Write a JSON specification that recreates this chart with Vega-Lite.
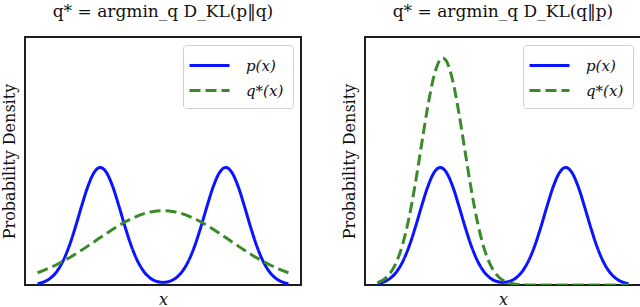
{
  "$schema": "https://vega.github.io/schema/vega-lite/v6.json",
  "padding": {"left": 0, "top": 2, "right": 1, "bottom": 2},
  "spacing": 38,
  "background": "white",
  "config": {
    "view": {"stroke": "#1e1e1e", "strokeWidth": 2},
    "axis": {"domain": false, "ticks": false, "labels": false, "grid": false, "titleFont": "DejaVu Serif", "titleFontWeight": "normal", "titleColor": "#111", "titleFontSize": 16},
    "title": {"font": "DejaVu Serif", "fontSize": 17, "fontWeight": "normal", "color": "#111", "frame": "group", "anchor": "middle", "offset": 16},
    "legend": {"orient": "top-right", "offset": 8, "title": null, "fillColor": "white", "strokeColor": "#d0d0d0", "cornerRadius": 3, "padding": 9, "labelFont": "DejaVu Serif", "labelFontStyle": "italic", "labelFontSize": 15, "labelColor": "#111", "symbolType": "M-1.4,0H2.6", "symbolSize": 400, "symbolStrokeWidth": 3, "symbolFillColor": "transparent", "rowPadding": 5, "labelOffset": 31}
  },
  "datasets": {
    "left": [
      {"series": "p(x)", "x": -4.0, "y": 0.00332}, {"series": "p(x)", "x": -3.8, "y": 0.00781}, {"series": "p(x)", "x": -3.6, "y": 0.01679}, {"series": "p(x)", "x": -3.4, "y": 0.033}, {"series": "p(x)", "x": -3.2, "y": 0.05921}, {"series": "p(x)", "x": -3.0, "y": 0.09715}, {"series": "p(x)", "x": -2.8, "y": 0.14566}, {"series": "p(x)", "x": -2.6, "y": 0.19957}, {"series": "p(x)", "x": -2.4, "y": 0.24993}, {"series": "p(x)", "x": -2.2, "y": 0.28605}, {"series": "p(x)", "x": -2.0, "y": 0.29921}, {"series": "p(x)", "x": -1.8, "y": 0.28605}, {"series": "p(x)", "x": -1.6, "y": 0.24993}, {"series": "p(x)", "x": -1.4, "y": 0.19957}, {"series": "p(x)", "x": -1.2, "y": 0.14566}, {"series": "p(x)", "x": -1.0, "y": 0.09716}, {"series": "p(x)", "x": -0.8, "y": 0.05927}, {"series": "p(x)", "x": -0.6, "y": 0.03315}, {"series": "p(x)", "x": -0.4, "y": 0.01724}, {"series": "p(x)", "x": -0.2, "y": 0.0091}, {"series": "p(x)", "x": 0.0, "y": 0.00664}, {"series": "p(x)", "x": 0.2, "y": 0.0091}, {"series": "p(x)", "x": 0.4, "y": 0.01724}, {"series": "p(x)", "x": 0.6, "y": 0.03315}, {"series": "p(x)", "x": 0.8, "y": 0.05927}, {"series": "p(x)", "x": 1.0, "y": 0.09716}, {"series": "p(x)", "x": 1.2, "y": 0.14566}, {"series": "p(x)", "x": 1.4, "y": 0.19957}, {"series": "p(x)", "x": 1.6, "y": 0.24993}, {"series": "p(x)", "x": 1.8, "y": 0.28605}, {"series": "p(x)", "x": 2.0, "y": 0.29921}, {"series": "p(x)", "x": 2.2, "y": 0.28605}, {"series": "p(x)", "x": 2.4, "y": 0.24993}, {"series": "p(x)", "x": 2.6, "y": 0.19957}, {"series": "p(x)", "x": 2.8, "y": 0.14566}, {"series": "p(x)", "x": 3.0, "y": 0.09715}, {"series": "p(x)", "x": 3.2, "y": 0.05921}, {"series": "p(x)", "x": 3.4, "y": 0.033}, {"series": "p(x)", "x": 3.6, "y": 0.01679}, {"series": "p(x)", "x": 3.8, "y": 0.00781}, {"series": "p(x)", "x": 4.0, "y": 0.00332},
      {"series": "q*(x)", "x": -4.0, "y": 0.03128}, {"series": "q*(x)", "x": -3.8, "y": 0.03728}, {"series": "q*(x)", "x": -3.6, "y": 0.04403}, {"series": "q*(x)", "x": -3.4, "y": 0.05155}, {"series": "q*(x)", "x": -3.2, "y": 0.05981}, {"series": "q*(x)", "x": -3.0, "y": 0.06876}, {"series": "q*(x)", "x": -2.8, "y": 0.07834}, {"series": "q*(x)", "x": -2.6, "y": 0.08846}, {"series": "q*(x)", "x": -2.4, "y": 0.09899}, {"series": "q*(x)", "x": -2.2, "y": 0.10979}, {"series": "q*(x)", "x": -2.0, "y": 0.12067}, {"series": "q*(x)", "x": -1.8, "y": 0.13144}, {"series": "q*(x)", "x": -1.6, "y": 0.14189}, {"series": "q*(x)", "x": -1.4, "y": 0.1518}, {"series": "q*(x)", "x": -1.2, "y": 0.16095}, {"series": "q*(x)", "x": -1.0, "y": 0.16911}, {"series": "q*(x)", "x": -0.8, "y": 0.17611}, {"series": "q*(x)", "x": -0.6, "y": 0.18174}, {"series": "q*(x)", "x": -0.4, "y": 0.18587}, {"series": "q*(x)", "x": -0.2, "y": 0.1884}, {"series": "q*(x)", "x": 0.0, "y": 0.18925}, {"series": "q*(x)", "x": 0.2, "y": 0.1884}, {"series": "q*(x)", "x": 0.4, "y": 0.18587}, {"series": "q*(x)", "x": 0.6, "y": 0.18174}, {"series": "q*(x)", "x": 0.8, "y": 0.17611}, {"series": "q*(x)", "x": 1.0, "y": 0.16911}, {"series": "q*(x)", "x": 1.2, "y": 0.16095}, {"series": "q*(x)", "x": 1.4, "y": 0.1518}, {"series": "q*(x)", "x": 1.6, "y": 0.14189}, {"series": "q*(x)", "x": 1.8, "y": 0.13144}, {"series": "q*(x)", "x": 2.0, "y": 0.12067}, {"series": "q*(x)", "x": 2.2, "y": 0.10979}, {"series": "q*(x)", "x": 2.4, "y": 0.09899}, {"series": "q*(x)", "x": 2.6, "y": 0.08846}, {"series": "q*(x)", "x": 2.8, "y": 0.07834}, {"series": "q*(x)", "x": 3.0, "y": 0.06876}, {"series": "q*(x)", "x": 3.2, "y": 0.05981}, {"series": "q*(x)", "x": 3.4, "y": 0.05155}, {"series": "q*(x)", "x": 3.6, "y": 0.04403}, {"series": "q*(x)", "x": 3.8, "y": 0.03728}, {"series": "q*(x)", "x": 4.0, "y": 0.03128}
    ],
    "right": [
      {"series": "p(x)", "x": -4.0, "y": 0.00332}, {"series": "p(x)", "x": -3.8, "y": 0.00781}, {"series": "p(x)", "x": -3.6, "y": 0.01679}, {"series": "p(x)", "x": -3.4, "y": 0.033}, {"series": "p(x)", "x": -3.2, "y": 0.05921}, {"series": "p(x)", "x": -3.0, "y": 0.09715}, {"series": "p(x)", "x": -2.8, "y": 0.14566}, {"series": "p(x)", "x": -2.6, "y": 0.19957}, {"series": "p(x)", "x": -2.4, "y": 0.24993}, {"series": "p(x)", "x": -2.2, "y": 0.28605}, {"series": "p(x)", "x": -2.0, "y": 0.29921}, {"series": "p(x)", "x": -1.8, "y": 0.28605}, {"series": "p(x)", "x": -1.6, "y": 0.24993}, {"series": "p(x)", "x": -1.4, "y": 0.19957}, {"series": "p(x)", "x": -1.2, "y": 0.14566}, {"series": "p(x)", "x": -1.0, "y": 0.09716}, {"series": "p(x)", "x": -0.8, "y": 0.05927}, {"series": "p(x)", "x": -0.6, "y": 0.03315}, {"series": "p(x)", "x": -0.4, "y": 0.01724}, {"series": "p(x)", "x": -0.2, "y": 0.0091}, {"series": "p(x)", "x": 0.0, "y": 0.00664}, {"series": "p(x)", "x": 0.2, "y": 0.0091}, {"series": "p(x)", "x": 0.4, "y": 0.01724}, {"series": "p(x)", "x": 0.6, "y": 0.03315}, {"series": "p(x)", "x": 0.8, "y": 0.05927}, {"series": "p(x)", "x": 1.0, "y": 0.09716}, {"series": "p(x)", "x": 1.2, "y": 0.14566}, {"series": "p(x)", "x": 1.4, "y": 0.19957}, {"series": "p(x)", "x": 1.6, "y": 0.24993}, {"series": "p(x)", "x": 1.8, "y": 0.28605}, {"series": "p(x)", "x": 2.0, "y": 0.29921}, {"series": "p(x)", "x": 2.2, "y": 0.28605}, {"series": "p(x)", "x": 2.4, "y": 0.24993}, {"series": "p(x)", "x": 2.6, "y": 0.19957}, {"series": "p(x)", "x": 2.8, "y": 0.14566}, {"series": "p(x)", "x": 3.0, "y": 0.09715}, {"series": "p(x)", "x": 3.2, "y": 0.05921}, {"series": "p(x)", "x": 3.4, "y": 0.033}, {"series": "p(x)", "x": 3.6, "y": 0.01679}, {"series": "p(x)", "x": 3.8, "y": 0.00781}, {"series": "p(x)", "x": 4.0, "y": 0.00332},
      {"series": "q*(x)", "x": -4.0, "y": 0.00615}, {"series": "q*(x)", "x": -3.8, "y": 0.01413}, {"series": "q*(x)", "x": -3.6, "y": 0.02983}, {"series": "q*(x)", "x": -3.4, "y": 0.05794}, {"series": "q*(x)", "x": -3.2, "y": 0.10348}, {"series": "q*(x)", "x": -3.0, "y": 0.16984}, {"series": "q*(x)", "x": -2.8, "y": 0.25636}, {"series": "q*(x)", "x": -2.6, "y": 0.35577}, {"series": "q*(x)", "x": -2.4, "y": 0.4539}, {"series": "q*(x)", "x": -2.2, "y": 0.53247}, {"series": "q*(x)", "x": -2.0, "y": 0.5743}, {"series": "q*(x)", "x": -1.92, "y": 0.57817}, {"series": "q*(x)", "x": -1.8, "y": 0.56949}, {"series": "q*(x)", "x": -1.6, "y": 0.51922}, {"series": "q*(x)", "x": -1.4, "y": 0.43524}, {"series": "q*(x)", "x": -1.2, "y": 0.33544}, {"series": "q*(x)", "x": -1.0, "y": 0.23769}, {"series": "q*(x)", "x": -0.8, "y": 0.15486}, {"series": "q*(x)", "x": -0.6, "y": 0.09276}, {"series": "q*(x)", "x": -0.4, "y": 0.05109}, {"series": "q*(x)", "x": -0.2, "y": 0.02587}, {"series": "q*(x)", "x": 0.0, "y": 0.01204}, {"series": "q*(x)", "x": 0.2, "y": 0.00516}, {"series": "q*(x)", "x": 0.4, "y": 0.00203}, {"series": "q*(x)", "x": 0.6, "y": 0.00073}, {"series": "q*(x)", "x": 0.8, "y": 0.00024}, {"series": "q*(x)", "x": 1.0, "y": 0.00008}, {"series": "q*(x)", "x": 1.4, "y": 0.0}, {"series": "q*(x)", "x": 2.0, "y": 0.0}, {"series": "q*(x)", "x": 2.6, "y": 0.0}, {"series": "q*(x)", "x": 3.2, "y": 0.0}, {"series": "q*(x)", "x": 4.0, "y": 0.0}
    ]
  },
  "hconcat": [
    {
      "width": 276,
      "height": 248,
      "title": {"text": "q* = argmin_q D_KL(p‖q)"},
      "data": {"name": "left"},
      "mark": {"type": "line", "strokeWidth": 3, "interpolate": "monotone", "clip": true},
      "encoding": {
        "x": {"field": "x", "type": "quantitative", "scale": {"domain": [-4.4, 4.4], "nice": false, "zero": false}, "axis": {"title": "x", "titleFontStyle": "italic", "titlePadding": 6}},
        "y": {"field": "y", "type": "quantitative", "scale": {"domain": [0, 0.6315], "nice": false}, "axis": {"title": "Probability Density", "titlePadding": 8}},
        "color": {"field": "series", "type": "nominal", "scale": {"domain": ["p(x)", "q*(x)"], "range": ["#0a14ff", "#3a8a2a"]}},
        "strokeDash": {"field": "series", "type": "nominal", "scale": {"domain": ["p(x)", "q*(x)"], "range": [[1, 0], [11, 5]]}}
      }
    },
    {
      "width": 276,
      "height": 248,
      "title": {"text": "q* = argmin_q D_KL(q‖p)"},
      "data": {"name": "right"},
      "mark": {"type": "line", "strokeWidth": 3, "interpolate": "monotone", "clip": true},
      "encoding": {
        "x": {"field": "x", "type": "quantitative", "scale": {"domain": [-4.4, 4.4], "nice": false, "zero": false}, "axis": {"title": "x", "titleFontStyle": "italic", "titlePadding": 6}},
        "y": {"field": "y", "type": "quantitative", "scale": {"domain": [0, 0.6315], "nice": false}, "axis": {"title": "Probability Density", "titlePadding": 8}},
        "color": {"field": "series", "type": "nominal", "scale": {"domain": ["p(x)", "q*(x)"], "range": ["#0a14ff", "#3a8a2a"]}},
        "strokeDash": {"field": "series", "type": "nominal", "scale": {"domain": ["p(x)", "q*(x)"], "range": [[1, 0], [11, 5]]}}
      }
    }
  ],
  "resolve": {"legend": {"color": "independent", "strokeDash": "independent"}, "scale": {"color": "independent", "strokeDash": "independent"}}
}
